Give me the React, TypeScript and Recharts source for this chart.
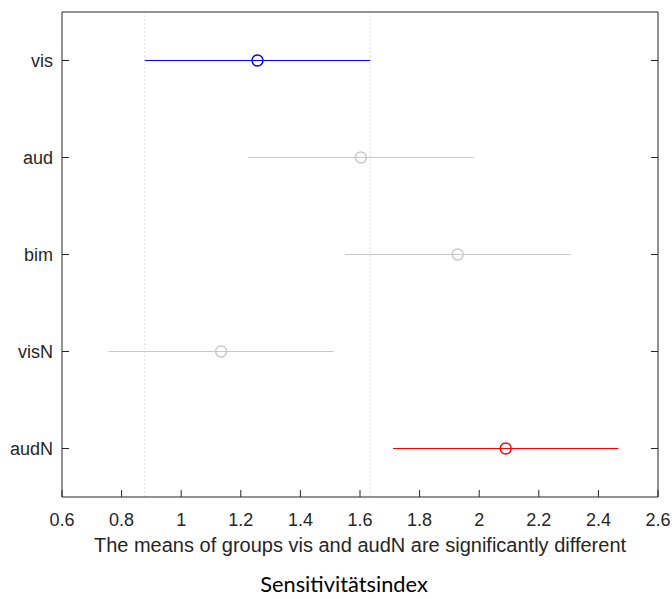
import React from "react";
import { ScatterChart, Scatter, XAxis, YAxis, ReferenceLine, Label } from "recharts";

// multiple comparison of group means (interval = comparison interval)
const groups = ["vis", "aud", "bim", "visN", "audN"];
const means = [1.256, 1.603, 1.928, 1.134, 2.089];
const lowers = [0.878, 1.225, 1.55, 0.756, 1.711];
const uppers = [1.634, 1.981, 2.306, 1.512, 2.467];
const xTicks = [0.6, 0.8, 1, 1.2, 1.4, 1.6, 1.8, 2, 2.2, 2.4, 2.6];

const selectedGroup = "vis";
const differentGroups = ["audN"];

const font = "'Liberation Sans', Arial, sans-serif";
const axisColor = "#262626";
const textColor = "#262626";
const TICK = 7;

const W = 672;
const H = 599;
const margin = { top: 11, right: 13, bottom: 72, left: 8 };

function colorOf(name: string) {
  if (name === selectedGroup) return "#0000ff";
  if (differentGroups.includes(name)) return "#ff0000";
  return "#c8c8c8";
}

const rows = groups.map((name, i) => ({
  name,
  y: i + 1,
  mean: means[i],
  lower: lowers[i],
  upper: uppers[i],
  color: colorOf(name),
}));

const sel = rows.find((r) => r.name === selectedGroup)!;

const fmt = (v: number) => String(Math.round(v * 10) / 10);

const BottomTick = (props: any) => {
  const { x, y, payload } = props;
  return (
    <g>
      <line x1={x} x2={x} y1={y} y2={y - TICK} stroke={axisColor} />
      <text x={x} y={y + 29} textAnchor="middle" fontSize={18} fill={textColor} fontFamily={font}>
        {fmt(payload.value)}
      </text>
    </g>
  );
};

const TopTick = (props: any) => {
  const { x, y } = props;
  return <line x1={x} x2={x} y1={y} y2={y + TICK} stroke={axisColor} />;
};

const LeftTick = (props: any) => {
  const { x, y, payload } = props;
  return (
    <g>
      <line x1={x} x2={x + TICK} y1={y} y2={y} stroke={axisColor} />
      <text x={x - 9} y={y + 6.5} textAnchor="end" fontSize={18} fill={textColor} fontFamily={font}>
        {groups[payload.value - 1]}
      </text>
    </g>
  );
};

const RightTick = (props: any) => {
  const { x, y } = props;
  return <line x1={x} x2={x - TICK} y1={y} y2={y} stroke={axisColor} />;
};

const Titles = (props: any) => {
  const vb = props.viewBox;
  return (
    <g>
      <text
        x={vb.x + vb.width / 2}
        y={vb.y + 55}
        textAnchor="middle"
        fontSize={20}
        fill={textColor}
        fontFamily={font}
      >
        The means of groups vis and audN are significantly different
      </text>
      <text
        x={vb.x + 282}
        y={vb.y + 95}
        textAnchor="middle"
        fontSize={21.8}
        fill="#000"
        fontFamily="Lato, 'Open Sans', sans-serif"
      >
        Sensitivitätsindex
      </text>
    </g>
  );
};

const MeanMarker = (props: any) => {
  const { cx, cy, payload } = props;
  return <circle cx={cx} cy={cy} r={5.5} fill="none" stroke={payload.color} strokeWidth={1.4} />;
};

const NoMarker = () => <g />;

export default function App() {
  return (
    <div style={{ position: "absolute", left: 0, top: 0, width: W, height: H, background: "#fff" }}>
      <ScatterChart width={W} height={H} margin={margin}>
        <XAxis
          xAxisId="bottom"
          type="number"
          dataKey="x"
          domain={[0.6, 2.6]}
          ticks={xTicks}
          interval={0}
          height={30}
          tickSize={0}
          tickMargin={0}
          tickLine={false}
          tick={BottomTick}
          axisLine={{ stroke: axisColor }}
          allowDataOverflow
        >
          <Label content={Titles} />
        </XAxis>
        <XAxis
          xAxisId="top"
          orientation="top"
          type="number"
          domain={[0.6, 2.6]}
          ticks={xTicks}
          interval={0}
          height={1}
          tickSize={0}
          tickMargin={0}
          tickLine={false}
          tick={TopTick}
          axisLine={{ stroke: axisColor }}
          allowDataOverflow
        />
        <YAxis
          yAxisId="left"
          type="number"
          dataKey="y"
          domain={[0.5, 5.5]}
          reversed
          ticks={[1, 2, 3, 4, 5]}
          interval={0}
          width={54}
          tickSize={0}
          tickMargin={0}
          tickLine={false}
          tick={LeftTick}
          axisLine={{ stroke: axisColor }}
          allowDataOverflow
        />
        <YAxis
          yAxisId="right"
          orientation="right"
          type="number"
          domain={[0.5, 5.5]}
          reversed
          ticks={[1, 2, 3, 4, 5]}
          interval={0}
          width={1}
          tickSize={0}
          tickMargin={0}
          tickLine={false}
          tick={RightTick}
          axisLine={{ stroke: axisColor }}
          allowDataOverflow
        />
        <ReferenceLine xAxisId="bottom" yAxisId="left" x={sel.lower} stroke="#d4d4d4" strokeDasharray="1.5 2.5" />
        <ReferenceLine xAxisId="bottom" yAxisId="left" x={sel.upper} stroke="#d4d4d4" strokeDasharray="1.5 2.5" />
        {rows.map((r) => (
          <Scatter
            key={r.name + "-ci"}
            xAxisId="bottom"
            yAxisId="left"
            data={[
              { x: r.lower, y: r.y },
              { x: r.upper, y: r.y },
            ]}
            fill={r.color}
            line={{ stroke: r.color, strokeWidth: 1.2 }}
            shape={NoMarker}
            isAnimationActive={false}
          />
        ))}
        <Scatter
          xAxisId="bottom"
          yAxisId="left"
          data={rows.map((r) => ({ x: r.mean, y: r.y, color: r.color }))}
          shape={MeanMarker}
          isAnimationActive={false}
        />
      </ScatterChart>
    </div>
  );
}
